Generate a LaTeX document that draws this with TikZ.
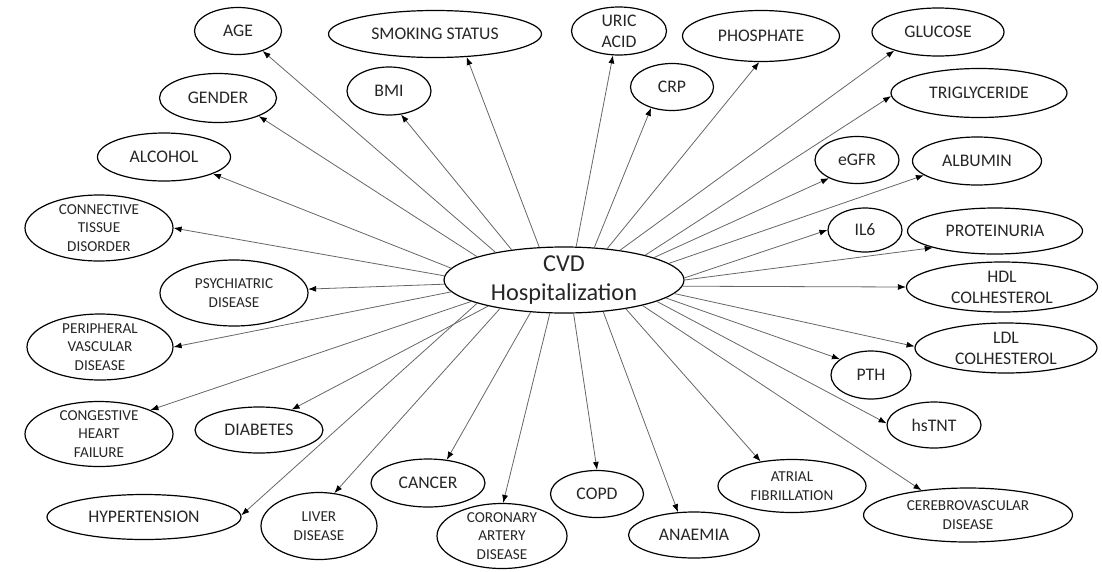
\documentclass[tikz,border=0pt]{standalone}
\usepackage{fontspec}
\setmainfont{Carlito}
\usetikzlibrary{arrows.meta,shapes.geometric}
\tikzset{
  bub/.style={ellipse, draw=black, line width=1.2pt, inner sep=-4pt, align=center,
    text=black!85, font=\fontsize{17.7}{21}\selectfont},
  sm/.style={font=\fontsize{15.2}{18.4}\selectfont},
  link/.style={draw=black!60, line width=0.8pt, -{Latex[length=8pt,width=6pt,color=black]}},
}
\begin{document}
\begin{tikzpicture}[x=1pt,y=-1pt]
\useasboundingbox (0,0) rectangle (1102,571);
% centre
\node[bub, minimum width=240pt, minimum height=66pt, font=\fontsize{24.3}{28.5}\selectfont] (cvd) at (564,280) {CVD\\Hospitalization};
% outer nodes
\node[bub, minimum width=87pt, minimum height=47pt] (age) at (238,31) {AGE};
\node[bub, minimum width=117pt, minimum height=49pt] (gender) at (218,98) {GENDER};
\node[bub, minimum width=133pt, minimum height=48pt] (alcohol) at (164,157) {ALCOHOL};
\node[bub, minimum width=213pt, minimum height=47pt] (smoking) at (435,34) {SMOKING STATUS};
\node[bub, minimum width=84pt, minimum height=48pt] (bmi) at (389,91) {BMI};
\node[bub, minimum width=95pt, minimum height=48pt] (uric) at (619,31) {URIC\\ACID};
\node[bub, minimum width=83pt, minimum height=47pt] (crp) at (672,87) {CRP};
\node[bub, minimum width=157pt, minimum height=51pt] (phos) at (761,36) {PHOSPHATE};
\node[bub, minimum width=132pt, minimum height=48pt] (glu) at (938,32) {GLUCOSE};
\node[bub, minimum width=176pt, minimum height=49pt] (tri) at (979,93) {TRIGLYCERIDE};
\node[bub, minimum width=84pt, minimum height=47pt] (egfr) at (857,160) {eGFR};
\node[bub, minimum width=129pt, minimum height=48pt] (alb) at (977,161) {ALBUMIN};
\node[bub, minimum width=74pt, minimum height=44pt] (il6) at (865,230) {IL6};
\node[bub, minimum width=175pt, minimum height=46pt] (prot) at (995,231) {PROTEINURIA};
\node[bub, minimum width=191pt, minimum height=50pt] (hdl) at (1002,287) {HDL\\COLHESTEROL};
\node[bub, minimum width=182pt, minimum height=50pt] (ldl) at (1006,348) {LDL\\COLHESTEROL};
\node[bub, minimum width=80pt, minimum height=48pt] (pth) at (871,375) {PTH};
\node[bub, minimum width=94pt, minimum height=46pt] (hstnt) at (934,425) {hsTNT};
\node[bub, sm, minimum width=209pt, minimum height=54pt] (cereb) at (968,515) {CEREBROVASCULAR\\DISEASE};
\node[bub, sm, minimum width=148pt, minimum height=53pt] (atrial) at (792,486) {ATRIAL\\FIBRILLATION};
\node[bub, minimum width=131pt, minimum height=46pt] (anaemia) at (694,535) {ANAEMIA};
\node[bub, minimum width=93pt, minimum height=47pt] (copd) at (597,494) {COPD};
\node[bub, sm, minimum width=130pt, minimum height=65pt] (cad) at (502,536) {CORONARY\\ARTERY\\DISEASE};
\node[bub, minimum width=114pt, minimum height=48pt] (cancer) at (428,483) {CANCER};
\node[bub, sm, minimum width=116pt, minimum height=67pt] (liver) at (319,526) {LIVER\\DISEASE};
\node[bub, minimum width=194pt, minimum height=45pt] (hyper) at (144,517) {HYPERTENSION};
\node[bub, minimum width=128pt, minimum height=46pt] (diab) at (259,430) {DIABETES};
\node[bub, sm, minimum width=148pt, minimum height=65pt] (chf) at (99,434) {CONGESTIVE\\HEART\\FAILURE};
\node[bub, sm, minimum width=146pt, minimum height=66pt] (pvd) at (100,347) {PERIPHERAL\\VASCULAR\\DISEASE};
\node[bub, sm, minimum width=148pt, minimum height=66pt] (psych) at (234,293) {PSYCHIATRIC\\DISEASE};
\node[bub, sm, minimum width=148pt, minimum height=66pt] (ctd) at (99,228) {CONNECTIVE\\TISSUE\\DISORDER};
% connectors
\draw[link] (cvd.158) -- (age.-39);
\draw[link] (cvd.165) -- (gender.-24);
\draw[link] (cvd.174) -- (alcohol.-19);
\draw[link] (cvd.127) -- (smoking.-36);
\draw[link] (cvd.150) -- (bmi.-63);
\draw[link] (cvd.70) -- (uric.-104);
\draw[link] (cvd.47) -- (crp.-135);
\draw[link] (cvd.36) -- (phos.-94);
\draw[link] (cvd.28) -- (glu.-157);
\draw[link] (cvd.17) -- (tri.-178);
\draw[link] (cvd.14) -- (egfr.-147);
\draw[link] (cvd.9) -- (alb.-165);
\draw[link] (cvd.1.5) -- (il6.180);
\draw[link] (cvd.0) -- (prot.-165);
\draw[link] (cvd.-3.4) -- (hdl.180);
\draw[link] (cvd.-7) -- (ldl.179);
\draw[link] (cvd.-10) -- (pth.153);
\draw[link] (cvd.-13) -- (hstnt.178);
\draw[link] (cvd.-18.5) -- (cereb.152);
\draw[link] (cvd.-25.5) -- (atrial.142);
\draw[link] (cvd.-39.5) -- (anaemia.125);
\draw[link] (cvd.-74.7) -- (copd.90);
\draw[link] (cvd.-113) -- (cad.88);
\draw[link] (cvd.-136) -- (cancer.51);
\draw[link] (cvd.-156.4) -- (liver.65);
\draw[link] (cvd.-161.8) -- (diab.32);
\draw[link] (cvd.-165) -- (hyper.1);
\draw[link] (cvd.-167.7) -- (chf.25);
\draw[link] (cvd.-174.8) -- (pvd.0);
\draw[link] (cvd.182) -- (psych.3);
\draw[link] (cvd.178) -- (ctd.0);
\end{tikzpicture}
\end{document}
